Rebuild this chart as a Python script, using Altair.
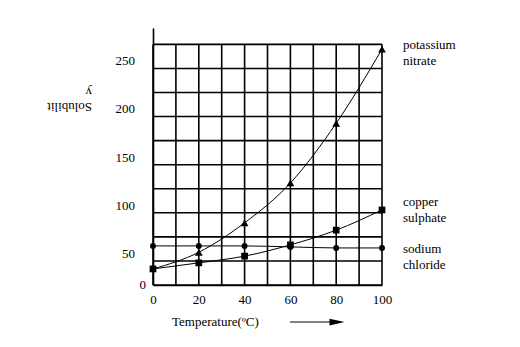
import altair as alt
import pandas as pd

temps = [0, 20, 40, 60, 80, 100]
potassium_nitrate = [16.7, 34, 64.6, 106, 168, 245]
copper_sulphate = [16.7, 23, 30, 41.7, 57, 78]
sodium_chloride = [40.6, 40.6, 40.6, 39.6, 38.5, 38.5]
series_names = ["potassium nitrate", "copper sulphate", "sodium chloride"]
series_shapes = ["triangle-up", "square", "circle"]
series_sizes = [60, 45, 35]

x_grid = [0, 10, 20, 30, 40, 50, 60, 70, 80, 90, 100]
y_grid = [0, 25, 50, 75, 100, 125, 150, 175, 200, 225, 250]
x_ticks = [0, 20, 40, 60, 80, 100]
y_ticks = [0, 50, 100, 150, 200, 250]

label_lines = [["potassium", "nitrate"], ["copper", "sulphate"], ["sodium", "chloride"]]
label_px_y = [21, 178, 225]

FONT = "Liberation Serif"
W, H = 229, 257
YMAX = 267

rows = []
for name, vals, shp, sz in zip(series_names, [potassium_nitrate, copper_sulphate, sodium_chloride],
                               series_shapes, series_sizes):
    for t, v in zip(temps, vals):
        rows.append({"series": name, "temp": t, "sol": v, "shape": shp, "size": sz})
df = pd.DataFrame(rows)

xs = alt.Scale(domain=[0, 100], nice=False, zero=False)
ys = alt.Scale(domain=[0, YMAX], nice=False, zero=False)

x_axis = alt.Axis(values=x_ticks, title=None, grid=False, ticks=False, domain=True,
                  domainColor="black", domainWidth=1.6, labelFont=FONT, labelFontSize=13,
                  labelColor="black", labelPadding=8, labelFlush=False)
y_axis = alt.Axis(values=y_ticks, title=None, grid=False, ticks=False, domain=True,
                  domainColor="black", domainWidth=1.6, labels=False)

vg = pd.DataFrame({"gx": x_grid, "y0": [0] * len(x_grid), "y1": [250] * len(x_grid)})
hg = pd.DataFrame({"gy": y_grid, "x0": [0] * len(y_grid), "x1": [100] * len(y_grid)})

vgrid = alt.Chart(vg).mark_rule(color="black", strokeWidth=1.6).encode(
    x=alt.X("gx:Q", scale=xs, axis=x_axis),
    y=alt.Y("y0:Q", scale=ys, axis=y_axis),
    y2="y1:Q",
)
hgrid = alt.Chart(hg).mark_rule(color="black", strokeWidth=1.6).encode(
    y=alt.Y("gy:Q", scale=ys, axis=y_axis),
    x=alt.X("x0:Q", scale=xs, axis=x_axis),
    x2="x1:Q",
)

base = alt.Chart(df)
lines = base.mark_line(color="black", strokeWidth=1, interpolate="monotone").encode(
    x=alt.X("temp:Q", scale=xs, axis=x_axis),
    y=alt.Y("sol:Q", scale=ys, axis=y_axis),
    detail="series:N",
)
points = base.mark_point(filled=True, color="black", opacity=1).encode(
    x=alt.X("temp:Q", scale=xs, axis=x_axis),
    y=alt.Y("sol:Q", scale=ys, axis=y_axis),
    shape=alt.Shape("shape:N", scale=None),
    size=alt.Size("size:Q", scale=None),
).transform_filter("!(datum.series === 'potassium nitrate' && datum.temp === 0)")

ylab = pd.DataFrame({"v": y_ticks, "x0": [0] * len(y_ticks)})
ylab_zero = alt.Chart(ylab).transform_filter("datum.v === 0").mark_text(
    font=FONT, fontSize=13, align="right", baseline="middle", color="black", dx=-7
).encode(x=alt.X("x0:Q", scale=xs, axis=x_axis), y=alt.Y("v:Q", scale=ys, axis=y_axis),
         text=alt.Text("v:Q"))
ylab_rest = alt.Chart(ylab).transform_filter("datum.v !== 0").mark_text(
    font=FONT, fontSize=13, align="right", baseline="middle", color="black", dx=-18, dy=17
).encode(x=alt.X("x0:Q", scale=xs, axis=x_axis), y=alt.Y("v:Q", scale=ys, axis=y_axis),
         text=alt.Text("v:Q"))

label_layers = []
for txt, py in zip(label_lines, label_px_y):
    label_layers.append(
        alt.Chart(pd.DataFrame({"a": [0]})).mark_text(
            font=FONT, fontSize=13, align="left", baseline="alphabetic", lineHeight=16,
            color="black", text=txt
        ).encode(x=alt.value(250), y=alt.value(py))
    )

ytitle = alt.Chart(pd.DataFrame({"a": [0]})).mark_text(
    font=FONT, fontSize=13, align="left", baseline="top", angle=180, lineHeight=15, color="black",
    text=["Solubilit", "y"]
).encode(x=alt.value(-61), y=alt.value(85))

xtitle = alt.Chart(pd.DataFrame({"a": [0]})).mark_text(
    font=FONT, fontSize=13, align="left", baseline="middle", color="black", text="Temperature(ºC)"
).encode(x=alt.value(19), y=alt.value(294))

arrow_line = alt.Chart(pd.DataFrame({"a": [0]})).mark_rule(color="black", strokeWidth=1).encode(
    x=alt.value(137), x2=alt.value(182), y=alt.value(294))
arrow_head = alt.Chart(pd.DataFrame({"a": [0]})).mark_point(
    filled=True, color="black", opacity=1, shape="M -1 -0.45 L 1 0 L -1 0.45 Z", size=225
).encode(x=alt.value(184), y=alt.value(294))

chart = alt.layer(vgrid, hgrid, lines, points, ylab_zero, ylab_rest, *label_layers,
                  ytitle, xtitle, arrow_line, arrow_head).properties(
    width=W, height=H,
    autosize=alt.AutoSizeParams(type="none"),
    padding={"left": 153, "top": 28, "right": 138, "bottom": 62},
    background="white",
).configure_view(stroke=None)

chart.save("out.html", embed_options={"renderer": "svg", "actions": False})
